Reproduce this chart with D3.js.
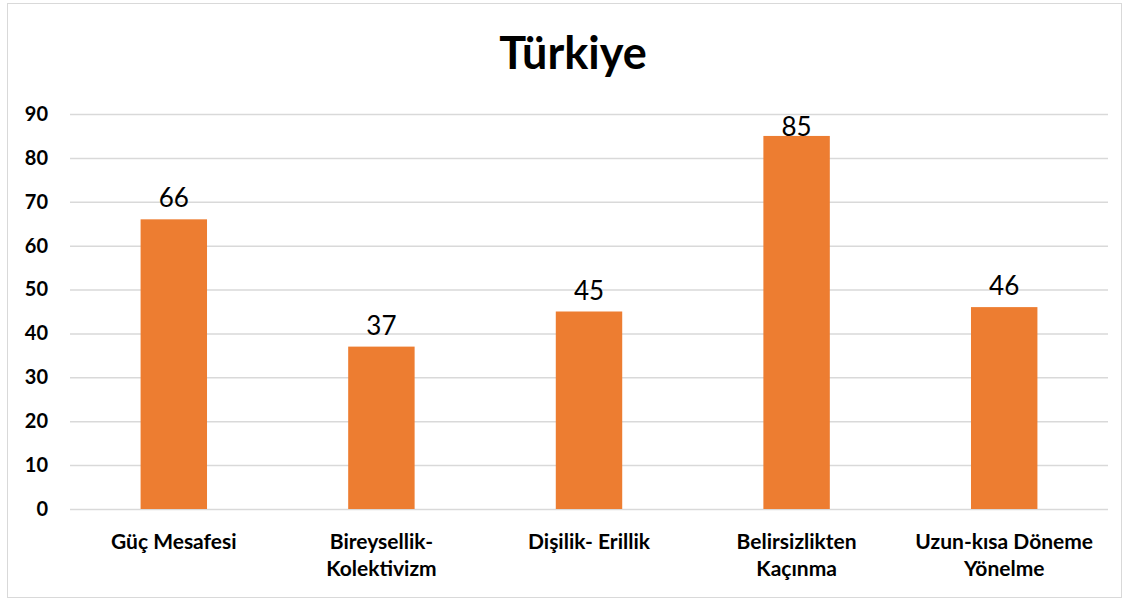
<!DOCTYPE html>
<html>
<head>
<meta charset="utf-8">
<script src="https://cdn.jsdelivr.net/npm/d3@7"></script>
<style>
  body { margin: 0; background: #fff; }
  text { font-family: Lato, "Open Sans", sans-serif; }
</style>
</head>
<body>
<div class="canvas"></div>
<script>
// chart data
const categories = [
  ['Güç Mesafesi'],
  ['Bireysellik-', 'Kolektivizm'],
  ['Dişilik- Erillik'],
  ['Belirsizlikten', 'Kaçınma'],
  ['Uzun-kısa Döneme', 'Yönelme']
];
const values = [66, 37, 45, 85, 46];
const yTicks = [0, 10, 20, 30, 40, 50, 60, 70, 80, 90];

const width = 1130, height = 605;
const margin = {top: 114, right: 22, bottom: 96, left: 70};
const graphWidth = width - margin.left - margin.right;
const graphHeight = height - margin.top - margin.bottom;

const svg = d3.select('.canvas')
  .append('svg')
    .attr('width', width)
    .attr('height', height);

// outer frame
svg.append('rect')
  .attr('x', 7.5).attr('y', 3.5)
  .attr('width', 1114).attr('height', 594)
  .attr('fill', '#fff')
  .attr('stroke', '#d9d9d9');

// title
svg.append('text')
  .attr('x', 573).attr('y', 69)
  .attr('text-anchor', 'middle')
  .attr('font-size', 45)
  .attr('font-weight', 'bold')
  .attr('fill', '#000')
  .text('Türkiye');

const graph = svg.append('g')
  .attr('transform', `translate(${margin.left}, ${margin.top})`);

// scales
const y = d3.scaleLinear()
  .domain([0, 90])
  .range([graphHeight, 0]);

const x = d3.scaleBand()
  .domain(d3.range(categories.length))
  .range([0, graphWidth])
  .paddingInner(0.68)
  .paddingOuter(0.34);

// gridlines + y labels
const yAxis = d3.axisLeft(y)
  .tickValues(yTicks)
  .tickSize(-graphWidth)
  .tickPadding(22);

const yAxisGroup = graph.append('g').call(yAxis);
yAxisGroup.select('.domain').remove();
yAxisGroup.selectAll('line')
  .attr('stroke', '#d9d9d9')
  .attr('stroke-width', 1.5);
yAxisGroup.selectAll('text')
  .attr('font-size', 20)
  .attr('font-weight', 'bold')
  .attr('fill', '#000')
  .attr('font-family', 'Lato, sans-serif');

// bars
graph.selectAll('rect.bar')
  .data(values)
  .enter()
  .append('rect')
    .attr('class', 'bar')
    .attr('x', (d, i) => x(i))
    .attr('y', d => y(d))
    .attr('width', x.bandwidth())
    .attr('height', d => graphHeight - y(d))
    .attr('fill', '#ed7d31');

// value labels (kept inside the plot area like Excel does)
graph.selectAll('text.val')
  .data(values)
  .enter()
  .append('text')
    .attr('class', 'val')
    .attr('x', (d, i) => x(i) + x.bandwidth() / 2)
    .attr('y', d => Math.max(y(d) - 12, y(90) + 22))
    .attr('text-anchor', 'middle')
    .attr('font-size', 26)
    .attr('fill', '#000')
    .text(d => d);

// category labels
const cat = graph.selectAll('text.cat')
  .data(categories)
  .enter()
  .append('text')
    .attr('class', 'cat')
    .attr('text-anchor', 'middle')
    .attr('font-size', 21)
    .attr('font-weight', 'bold')
    .attr('fill', '#000')
    .attr('transform', (d, i) => `translate(${x(i) + x.bandwidth() / 2}, ${graphHeight + 40})`);

cat.selectAll('tspan')
  .data(d => d)
  .enter()
  .append('tspan')
    .attr('x', 0)
    .attr('dy', (d, i) => i === 0 ? 0 : 27)
    .text(d => d);
</script>
</body>
</html>
